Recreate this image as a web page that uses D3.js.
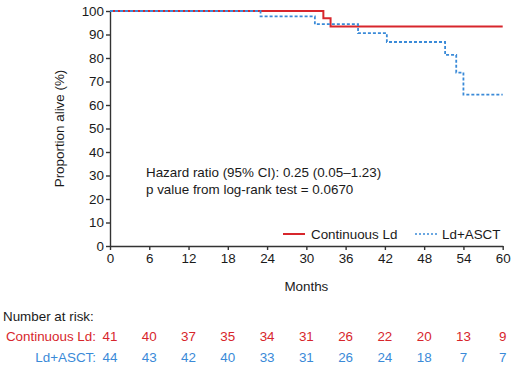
<!DOCTYPE html>
<html>
<head>
<meta charset="utf-8">
<script src="https://cdn.jsdelivr.net/npm/d3@7"></script>
<style>
  html, body { margin: 0; padding: 0; background: #fff; }
  svg { display: block; font-family: "Liberation Sans", Arial, Helvetica, sans-serif; }
</style>
</head>
<body>
<svg id="chart" width="520" height="368"></svg>
<script>
// ---- data ----
const xTicks = [0, 6, 12, 18, 24, 30, 36, 42, 48, 54, 60];
const yTicks = [0, 10, 20, 30, 40, 50, 60, 70, 80, 90, 100];
const seriesNames = ["Continuous Ld", "Ld+ASCT"];
const ldTimes = [0, 32.6, 33.7, 60];
const ldSurvival = [100, 96.9, 93.4, 93.4];
const asctTimes = [0, 23.0, 31.3, 37.9, 42.3, 51.2, 52.9, 54.0, 60];
const asctSurvival = [100, 97.7, 94.4, 90.6, 86.8, 81.3, 73.8, 64.4, 64.4];
const riskLd = [41, 40, 37, 35, 34, 31, 26, 22, 20, 13, 9];
const riskAsct = [44, 43, 42, 40, 33, 31, 26, 24, 18, 7, 7];
const annotation = ["Hazard ratio (95% CI): 0.25 (0.05\u20131.23)", "p value from log-rank test = 0.0670"];

// ---- styles ----
const RED = "#d7262c";
const BLUE = "#3a8ad8";
const FS = 13.4;

const svg = d3.select("#chart");
const x = d3.scaleLinear().domain([0, 60]).range([110, 502.7]);
const y = d3.scaleLinear().domain([0, 100]).range([246, 11]);

// axes
const xAxis = svg.append("g").attr("transform", `translate(0,${y(0)})`)
  .call(d3.axisBottom(x).tickValues(xTicks).tickSize(4).tickPadding(3).tickSizeOuter(0));
const yAxis = svg.append("g").attr("transform", `translate(${x(0)},0)`)
  .call(d3.axisLeft(y).tickValues(yTicks).tickSize(4).tickPadding(2).tickSizeOuter(0));
[xAxis, yAxis].forEach(a => {
  a.selectAll("path,line").attr("stroke", "#333").attr("stroke-width", 1.4);
  a.selectAll("text").attr("fill", "#1a1a1a").style("font-size", FS + "px")
   .style("font-family", '"Liberation Sans", Arial, sans-serif');
});

// axis titles
svg.append("text").attr("x", x(30)).attr("y", 291).attr("text-anchor", "middle")
  .attr("fill", "#1a1a1a").style("font-size", FS + "px").text("Months");
svg.append("text").attr("transform", `translate(64,${y(50)}) rotate(-90)`)
  .attr("text-anchor", "middle").attr("fill", "#1a1a1a").style("font-size", FS + "px")
  .text("Proportion alive (%)");

// curves
const line = d3.line().x(d => x(d[0])).y(d => y(d[1])).curve(d3.curveStepAfter);
svg.append("path").datum(d3.zip(ldTimes, ldSurvival)).attr("d", line)
  .attr("fill", "none").attr("stroke", RED).attr("stroke-width", 2);
svg.append("path").datum(d3.zip(asctTimes, asctSurvival)).attr("d", line)
  .attr("fill", "none").attr("stroke", BLUE).attr("stroke-width", 1.8)
  .attr("stroke-dasharray", "3,2");

// annotation
annotation.forEach((t, i) => {
  svg.append("text").attr("x", 146).attr("y", 177 + i * 17)
    .attr("fill", "#1a1a1a").style("font-size", FS + "px").text(t);
});

// legend
const legY = 234;
svg.append("line").attr("x1", 283).attr("x2", 305).attr("y1", legY).attr("y2", legY)
  .attr("stroke", RED).attr("stroke-width", 2);
svg.append("text").attr("x", 311).attr("y", legY + 5).attr("fill", "#1a1a1a")
  .style("font-size", FS + "px").text(seriesNames[0]);
svg.append("line").attr("x1", 415).attr("x2", 437).attr("y1", legY).attr("y2", legY)
  .attr("stroke", BLUE).attr("stroke-width", 1.5).attr("stroke-dasharray", "2,2");
svg.append("text").attr("x", 442).attr("y", legY + 5).attr("fill", "#1a1a1a")
  .style("font-size", FS + "px").text(seriesNames[1]);

// number at risk
svg.append("text").attr("x", 3).attr("y", 321).attr("fill", "#1a1a1a")
  .style("font-size", FS + "px").text("Number at risk:");
svg.append("text").attr("x", 96).attr("y", 341).attr("text-anchor", "end").attr("fill", RED)
  .style("font-size", FS + "px").text(seriesNames[0] + ":");
svg.append("text").attr("x", 96).attr("y", 362).attr("text-anchor", "end").attr("fill", BLUE)
  .style("font-size", FS + "px").text(seriesNames[1] + ":");
svg.append("g").selectAll("text").data(riskLd).join("text")
  .attr("x", (d, i) => x(xTicks[i])).attr("y", 341).attr("text-anchor", "middle")
  .attr("fill", RED).style("font-size", FS + "px").text(d => d);
svg.append("g").selectAll("text").data(riskAsct).join("text")
  .attr("x", (d, i) => x(xTicks[i])).attr("y", 362).attr("text-anchor", "middle")
  .attr("fill", BLUE).style("font-size", FS + "px").text(d => d);
</script>
</body>
</html>
